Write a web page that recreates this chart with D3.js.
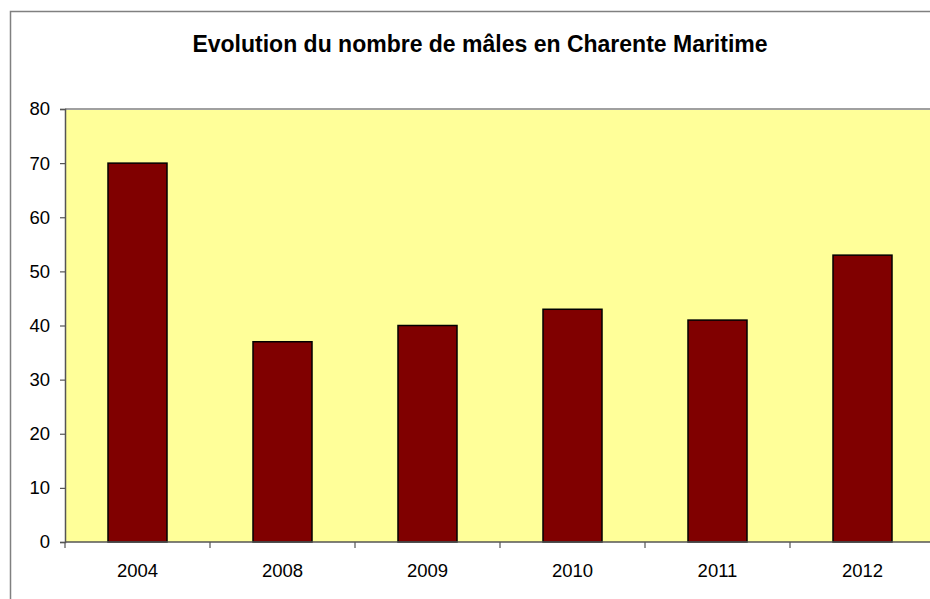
<!DOCTYPE html>
<html>
<head>
<meta charset="utf-8">
<script src="https://cdn.jsdelivr.net/npm/d3@7"></script>
<style>
  body { margin: 0; background: #fff; }
  svg { display: block; font-family: "Liberation Sans", Arial, sans-serif; }
</style>
</head>
<body>
<div id="chart"></div>
<script>
const years = ["2004", "2008", "2009", "2010", "2011", "2012"];
const males = [70, 37, 40, 43, 41, 53];
const yTicks = [0, 10, 20, 30, 40, 50, 60, 70, 80];
const chartTitle = "Evolution du nombre de mâles en Charente Maritime";

const width = 930, height = 599;
const margin = {top: 109, left: 65, bottom: 57};
const plotW = 870;
const plotH = height - margin.top - margin.bottom;

const svg = d3.select("#chart").append("svg")
    .attr("width", width)
    .attr("height", height);

// outer chart frame (runs off the right and bottom edges)
svg.append("rect")
    .attr("x", 10.5).attr("y", 11.5)
    .attr("width", 940).attr("height", 620)
    .attr("fill", "#fff")
    .attr("stroke", "#808080")
    .attr("stroke-width", 1.5);

svg.append("text")
    .attr("x", 480).attr("y", 52)
    .attr("text-anchor", "middle")
    .attr("font-size", 23)
    .attr("font-weight", "bold")
    .attr("fill", "#000")
    .text(chartTitle);

const g = svg.append("g")
    .attr("transform", `translate(${margin.left}, ${margin.top})`);

const band = d3.scaleBand().domain(years).range([0, plotW]);
const barW = 59;

const y = d3.scaleLinear()
    .domain([0, 80])
    .range([plotH, 0]);

g.append("rect")
    .attr("width", plotW).attr("height", plotH)
    .attr("fill", "#FFFF99");

g.append("line")
    .attr("x1", 0).attr("x2", plotW)
    .attr("y1", 0).attr("y2", 0)
    .attr("stroke", "#a0a0a0")
    .attr("stroke-width", 2);

g.selectAll("rect.bar")
    .data(males)
    .join("rect")
    .attr("class", "bar")
    .attr("x", (d, i) => band(years[i]) + band.bandwidth() / 2 - barW / 2)
    .attr("width", barW)
    .attr("y", d => y(d))
    .attr("height", d => plotH - y(d))
    .attr("fill", "#800000")
    .attr("stroke", "#000")
    .attr("stroke-width", 1.5);

// y axis
const yAxis = g.append("g")
    .call(d3.axisLeft(y).tickValues(yTicks).tickSize(5).tickPadding(10));
yAxis.select(".domain").attr("stroke", "#555").attr("stroke-width", 1.5);
yAxis.selectAll(".tick line").attr("stroke", "#555").attr("stroke-width", 1.2);
yAxis.selectAll(".tick text")
    .attr("font-size", 18.5)
    .attr("font-family", "Liberation Sans, Arial, sans-serif")
    .attr("fill", "#000");

// x axis: ticks at band boundaries, labels centred in bands
const xAxis = g.append("g").attr("transform", `translate(0, ${plotH})`);
xAxis.append("line")
    .attr("x1", 0).attr("x2", plotW)
    .attr("stroke", "#555").attr("stroke-width", 1.5);
xAxis.selectAll("line.tick")
    .data(years)
    .join("line")
    .attr("class", "tick")
    .attr("x1", d => band(d)).attr("x2", d => band(d))
    .attr("y1", 0).attr("y2", 6)
    .attr("stroke", "#555").attr("stroke-width", 1.2);
xAxis.selectAll("text")
    .data(years)
    .join("text")
    .attr("x", d => band(d) + band.bandwidth() / 2)
    .attr("y", 35)
    .attr("text-anchor", "middle")
    .attr("font-size", 18.5)
    .attr("fill", "#000")
    .text(d => d);
</script>
</body>
</html>
